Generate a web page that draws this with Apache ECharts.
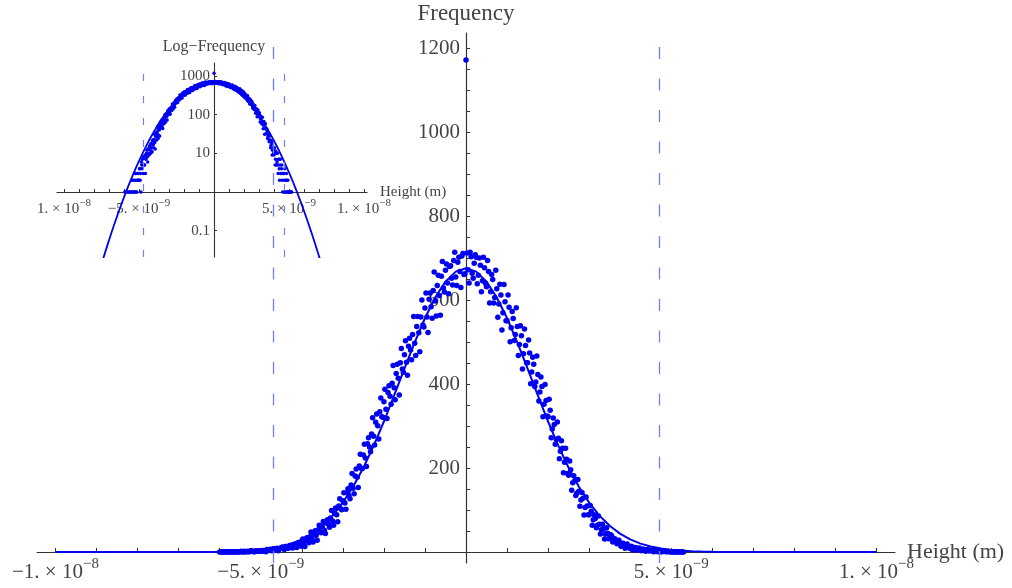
<!DOCTYPE html>
<html>
<head>
<meta charset="utf-8">
<title>Height distribution</title>
<script src="https://cdn.jsdelivr.net/npm/echarts@6.0.0/dist/echarts.min.js"></script>
<style>
  html, body { margin: 0; padding: 0; background: #fff; }
  #chart { width: 1012px; height: 588px; }
</style>
</head>
<body>
<div id="chart"></div>
<script>
// heights are kept in units of 1e-9 m
var binStart = -6.0;
var binWidth = 0.05;
var counts = [
  0, 1, 0, 0, 1, 0, 0, 1, 0, 1,
  1, 0, 2, 1, 1, 3, 2, 1, 2, 3,
  2, 4, 3, 6, 4, 5, 8, 5, 9, 7,
  10, 8, 13, 10, 15, 12, 18, 14, 21, 17,
  23, 19, 28, 27, 36, 31, 42, 40, 53, 48,
  60, 52, 69, 66, 81, 74, 92, 89, 110, 103,
  122, 117, 141, 135, 160, 152, 181, 178, 205, 199,
  231, 224, 258, 250, 281, 276, 309, 301, 334, 322,
  358, 340, 380, 371, 402, 391, 425, 414, 451, 436,
  470, 452, 490, 481, 518, 497, 537, 522, 560, 541,
  581, 560, 602, 584, 623, 598, 635, 611, 657, 629,
  671, 641, 680, 652, 694, 655, 690, 668, 705, 661,
  1172, 672, 714, 664, 688, 702, 659, 683, 646, 677,
  632, 668, 620, 649, 606, 627, 591, 612, 570, 596,
  551, 583, 534, 556, 518, 537, 494, 515, 472, 492,
  451, 474, 429, 447, 405, 423, 381, 394, 352, 361,
  322, 338, 293, 304, 268, 271, 240, 247, 214, 221,
  183, 196, 165, 170, 140, 145, 124, 128, 106, 110,
  89, 97, 77, 80, 64, 66, 53, 55, 43, 45,
  33, 38, 27, 29, 21, 22, 16, 18, 12, 14,
  9, 12, 7, 10, 6, 5, 7, 4, 5, 3,
  4, 2, 3, 3, 2, 1, 2, 2, 1, 1,
  1, 0, 1, 1, 0, 0, 0
];
// the points that sit between the ones above
var midStart = -5.975;
var midCounts = [
  0, 0, 1, 0, 0, 1, 0, 0, 1, 0,
  2, 1, 0, 2, 1, 3, 1, 3, 2, 2,
  4, 2, 1, 5, 7, 3, 8, 5, 3, 9,
  12, 6, 13, 9, 16, 10, 18, 11, 22, 14,
  31, 13, 34, 22, 48, 24, 51, 28, 64, 46,
  73, 44, 77, 59, 99, 64, 105, 72, 127, 101,
  141, 102, 151, 127, 187, 139, 198, 154, 233, 199,
  257, 204, 272, 239, 320, 255, 329, 269, 367, 321,
  388, 318, 396, 352, 444, 363, 447, 374, 485, 428,
  503, 421, 509, 458, 561, 468, 561, 477, 600, 536,
  617, 523, 617, 557, 667, 562, 659, 564, 692, 619,
  686, 615, 682, 636, 714, 635, 702, 630, 711, 663,
  712, 641, 703, 652, 708, 639, 700, 620, 702, 640,
  694, 593, 661, 593, 671, 559, 638, 529, 637, 551,
  612, 501, 573, 504, 582, 468, 539, 436, 531, 451,
  505, 401, 464, 394, 467, 360, 417, 322, 399, 324,
  364, 272, 319, 257, 310, 222, 265, 189, 247, 187,
  217, 147, 182, 135, 173, 109, 142, 88, 131, 89,
  111, 64, 89, 58, 86, 43, 66, 31, 58, 32,
  41, 24, 32, 20, 28, 14, 21, 9, 19, 10,
  14, 5, 11, 5, 10, 3, 7, 2, 7, 3,
  5, 1, 3, 1, 4, 1, 3, 1, 2, 1,
  0, 1, 0, 1, 0, 0
];

// fitted curve, main panel (every 0.25 from -10 to 10)
var fitStart = -10;
var fitStep = 0.25;
var fitValues = [
  0, 0, 0, 0, 0, 0, 0, 0, 0, 0, 0,
  0.025, 0.050, 0.097, 0.18, 0.34, 0.62, 1.10, 1.90, 3.20, 5.27,
  8.46, 13.24, 20.2, 30.2, 44.0, 62.6, 86.9, 117.8, 155.7, 200.9,
  252.9, 310.9, 373.0, 436.8, 499.2, 556.8, 606.1, 644.0, 667.8,
  676,
  667.8, 644.0, 606.1, 556.8, 499.2, 436.8, 373.0, 310.9, 252.9,
  200.9, 155.7, 117.8, 86.9, 62.6, 44.0, 30.2, 20.2, 13.24, 8.46,
  5.27, 3.20, 1.90, 1.10, 0.62, 0.34, 0.18, 0.097, 0.050, 0.025,
  0, 0, 0, 0, 0, 0, 0, 0, 0, 0, 0
];

// fitted curve, log inset (every 0.5 from -8 to 8)
var logFitStart = -8;
var logFitStep = 0.5;
var logFitValues = [
  0.00296, 0.01368, 0.0571, 0.2158, 0.738, 2.275, 6.35, 16.03, 36.56,
  75.3, 140.4, 236.5, 359.8, 495.3, 616.3, 692.4, 704,
  646.5, 537, 402.7, 273.4, 167.7, 93.0, 46.6, 21.1, 8.63,
  3.20, 1.07, 0.324, 0.0884, 0.0218, 0.00488, 0.000985
];

var cutoffs = [-4.7, 4.7];

var xTicks = [-10, -9, -8, -7, -6, -5, -4, -3, -2, -1, 0, 1, 2, 3, 4, 5, 6, 7, 8, 9, 10];
var xLabelValues = [-10, -5, 5, 10];
var xLabelMant = ['−1.', '−5.', '5.', '1.'];
var insetLabelMant = ['1.', '−5.', '5.', '1.'];
var xLabelExp = ['−8', '−9', '−9', '−8'];

var yTicks = [50, 100, 150, 200, 250, 300, 350, 400, 450, 500, 550, 600,
  650, 700, 750, 800, 850, 900, 950, 1000, 1050, 1100, 1150, 1200];
var yLabels = [200, 400, 600, 800, 1000, 1200];
var logTicks = [0.1, 10, 100, 1000];

var FONT = 'Liberation Serif';
var TXT = '#444';
var AXC = '#333';
var BLUE = '#0000f0';
var DASH = '#6f80f0';

// main range and inset range (x in 1e-9 m)
var mainX = [-10.45, 10.45], mainY = [-26, 1236];
var insetX = [-10.47, 10.2], insetY = [0.0209, 2154];

var points = [], logPoints = [];
function addPoint(x, c) {
  points.push([x, c]);
  if (c > 0) logPoints.push([x, c]);
}
for (var i = 0; i < counts.length; i++) addPoint(+(binStart + i * binWidth).toFixed(3), counts[i]);
for (var j = 0; j < midCounts.length; j++) addPoint(+(midStart + j * binWidth).toFixed(3), midCounts[j]);
var fitData = fitValues.map(function (v, k) { return [fitStart + k * fitStep, v]; });
var logFitData = logFitValues.map(function (v, k) { return [logFitStart + k * logFitStep, v]; });

function expLabel(mants) {
  return function (v) {
    var k = xLabelValues.indexOf(Math.round(v));
    if (k < 0) return '';
    return '{m|' + mants[k] + ' × 10}{e|' + xLabelExp[k] + '}';
  };
}
function hiddenAxis(grid, range, type) {
  return { gridIndex: grid, type: type || 'value', min: range[0], max: range[1], show: false, splitLine: { show: false } };
}

var chart = echarts.init(document.getElementById('chart'));
chart.setOption({
  animation: false,
  grid: [
    // 0 main data, 1 main x axis strip, 2 main y axis strip
    { left: 37, top: 33, width: 858, height: 530, outerBoundsMode: 'none' },
    { left: 37, top: 551, width: 858, height: 1, outerBoundsMode: 'none' },
    { left: 466, top: 33, width: 1, height: 530, outerBoundsMode: 'none' },
    // 3 inset data, 4 inset x axis strip, 5 inset y axis strip
    { left: 57, top: 63, width: 310, height: 194, outerBoundsMode: 'none' },
    { left: 57, top: 191, width: 310, height: 1, outerBoundsMode: 'none' },
    { left: 214, top: 63, width: 1, height: 194, outerBoundsMode: 'none' }
  ],
  xAxis: [
    hiddenAxis(0, mainX),
    {
      gridIndex: 1, type: 'value', min: mainX[0], max: mainX[1], position: 'bottom',
      splitLine: { show: false },
      axisLine: { onZero: false, lineStyle: { color: AXC, width: 1.2 } },
      axisTick: { inside: true, length: 4, customValues: xTicks, lineStyle: { color: AXC } },
      axisLabel: {
        customValues: xLabelValues, margin: 5, formatter: expLabel(xLabelMant),
        rich: {
          m: { fontFamily: FONT, fontSize: 21, color: TXT, lineHeight: 30 },
          e: { fontFamily: FONT, fontSize: 15, color: TXT, lineHeight: 16, verticalAlign: 'top' }
        }
      },
      name: 'Height (m)', nameLocation: 'end', nameGap: 12, nameMoveOverlap: false,
      nameTextStyle: { fontFamily: FONT, fontSize: 22, color: TXT }
    },
    hiddenAxis(2, [0, 1]),
    hiddenAxis(3, insetX),
    {
      gridIndex: 4, type: 'value', min: insetX[0], max: insetX[1], position: 'bottom',
      splitLine: { show: false },
      axisLine: { onZero: false, lineStyle: { color: AXC, width: 1.1 } },
      axisTick: { inside: true, length: 3, customValues: xTicks, lineStyle: { color: AXC } },
      axisLabel: {
        customValues: xLabelValues, margin: 6, formatter: expLabel(insetLabelMant),
        rich: {
          m: { fontFamily: FONT, fontSize: 15, color: TXT, lineHeight: 22 },
          e: { fontFamily: FONT, fontSize: 11, color: TXT, lineHeight: 12, verticalAlign: 'top' }
        }
      },
      name: 'Height (m)', nameLocation: 'end', nameGap: 13, nameMoveOverlap: false,
      nameTextStyle: { fontFamily: FONT, fontSize: 15, color: TXT }
    },
    hiddenAxis(5, [0, 1])
  ],
  yAxis: [
    hiddenAxis(0, mainY),
    hiddenAxis(1, [0, 1]),
    {
      gridIndex: 2, type: 'value', min: mainY[0], max: mainY[1], position: 'left',
      splitLine: { show: false },
      axisLine: { onZero: false, lineStyle: { color: AXC, width: 1.2 } },
      axisTick: { inside: true, length: 4, customValues: yTicks, lineStyle: { color: AXC } },
      axisLabel: {
        customValues: yLabels, margin: 6, fontFamily: FONT, fontSize: 21, color: TXT,
        formatter: function (v) { return String(v); }
      },
      name: 'Frequency', nameLocation: 'end', nameGap: 8, nameMoveOverlap: false,
      nameTextStyle: { fontFamily: FONT, fontSize: 23, color: TXT }
    },
    hiddenAxis(3, insetY, 'log'),
    hiddenAxis(4, [0, 1]),
    {
      gridIndex: 5, type: 'log', logBase: 10, min: insetY[0], max: insetY[1], position: 'left',
      splitLine: { show: false },
      axisLine: { onZero: false, lineStyle: { color: AXC, width: 1.1 } },
      axisTick: { inside: true, length: 3, customValues: logTicks, lineStyle: { color: AXC } },
      axisLabel: {
        customValues: logTicks, margin: 4, fontFamily: FONT, fontSize: 15, color: TXT,
        formatter: function (v) { return v >= 1 ? String(Math.round(v)) : String(+v.toFixed(2)); }
      },
      name: 'Log−Frequency', nameLocation: 'end', nameGap: 8, nameMoveOverlap: false,
      nameTextStyle: { fontFamily: FONT, fontSize: 16, color: TXT }
    }
  ],
  series: [{
    type: 'line', xAxisIndex: 0, yAxisIndex: 0, data: fitData,
    showSymbol: false, smooth: false, silent: true,
    lineStyle: { color: BLUE, width: 2 }, z: 2,
    markLine: {
      silent: true, symbol: ['none', 'none'], label: { show: false },
      lineStyle: { color: DASH, width: 1.3, type: [12, 19.5] },
      data: cutoffs.map(function (c) { return [{ coord: [c, mainY[0]] }, { coord: [c, 1210] }]; })
    }
  }, {
    type: 'scatter', xAxisIndex: 0, yAxisIndex: 0, data: points,
    symbolSize: 5.5, itemStyle: { color: BLUE, opacity: 1 }, silent: true, z: 3
  }, {
    type: 'line', xAxisIndex: 3, yAxisIndex: 3, data: logFitData,
    showSymbol: false, smooth: true, silent: true,
    lineStyle: { color: BLUE, width: 1.8 }, z: 2,
    markLine: {
      silent: true, symbol: ['none', 'none'], label: { show: false },
      lineStyle: { color: DASH, width: 1.2, type: [7, 15] },
      data: cutoffs.map(function (c) { return [{ coord: [c, insetY[0]] }, { coord: [c, insetY[1]] }]; })
    }
  }, {
    type: 'scatter', xAxisIndex: 3, yAxisIndex: 3, data: logPoints,
    symbolSize: 3.5, itemStyle: { color: BLUE, opacity: 1 }, silent: true, z: 3
  }]
});
</script>
</body>
</html>
